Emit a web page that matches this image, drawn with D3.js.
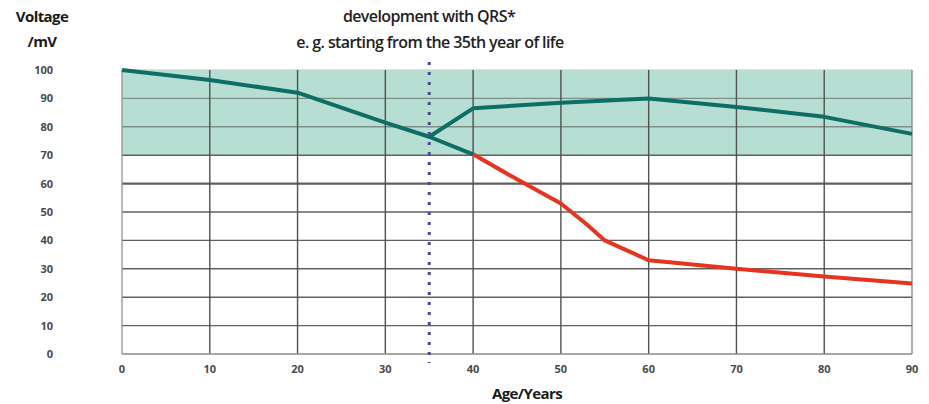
<!DOCTYPE html>
<html>
<head>
<meta charset="utf-8">
<script src="https://cdn.jsdelivr.net/npm/d3@7"></script>
<style>
  body { margin: 0; background: #fff; }
  text { font-family: "Open Sans", sans-serif; }
</style>
</head>
<body>
<div id="chart"></div>
<script>
// Data
var xTicks = [0, 10, 20, 30, 40, 50, 60, 70, 80, 90];
var yTicks = [0, 10, 20, 30, 40, 50, 60, 70, 80, 90, 100];
var normalAges = [0, 10, 20, 30, 35, 40];
var normalVolts = [100, 96.5, 92, 81.5, 76.5, 70.3];
var declineAges = [40, 45, 50, 53, 55, 60, 70, 80, 90];
var declineVolts = [70.3, 61.5, 53, 45.5, 40, 33, 30, 27.3, 24.8];
var qrsAges = [35, 40, 50, 60, 70, 80, 90];
var qrsVolts = [76.5, 86.5, 88.5, 90, 87, 83.5, 77.5];
var bandRange = [70, 100];
var markerAge = 35;

var width = 929, height = 404;
var svg = d3.select("#chart").append("svg").attr("width", width).attr("height", height);

// Scales
var x = d3.scaleLinear().domain([0, 90]).range([122, 912]);
var y = d3.scaleLinear().domain([0, 100]).range([354, 70]);

// Shaded normal band
svg.append("rect")
  .attr("x", x(0)).attr("y", y(bandRange[1]))
  .attr("width", x(90) - x(0)).attr("height", y(bandRange[0]) - y(bandRange[1]))
  .attr("fill", "#b7ded2");

// Horizontal grid
svg.append("g").selectAll("line")
  .data(yTicks.filter(function(d){ return d > 0; }))
  .join("line")
  .attr("x1", x(0)).attr("x2", x(90))
  .attr("y1", function(d){ return y(d); }).attr("y2", function(d){ return y(d); })
  .attr("stroke", function(d){ return d == 100 ? "#c4dcd4" : (d > 70 ? "#7d8f89" : "#606060"); })
  .attr("stroke-width", function(d){ return d == 60 ? 2.2 : 1.4; });

// Vertical grid
svg.append("g").selectAll("line")
  .data(xTicks)
  .join("line")
  .attr("x1", function(d){ return x(d); }).attr("x2", function(d){ return x(d); })
  .attr("y1", y(100)).attr("y2", y(0))
  .attr("stroke", function(d){ return d == 0 ? "#9a9a9a" : (d == 90 ? "#8a8a8a" : "#505050"); })
  .attr("stroke-width", 1.4);

// Bottom axis line
svg.append("line")
  .attr("x1", x(0)).attr("x2", x(90)).attr("y1", y(0)).attr("y2", y(0))
  .attr("stroke", "#8a8a8a").attr("stroke-width", 1.4);

// Tick labels
svg.append("g").selectAll("text")
  .data(yTicks)
  .join("text")
  .attr("x", 53).attr("y", function(d){ return y(d) + 4; })
  .attr("text-anchor", "end")
  .attr("font-size", 11).attr("font-weight", "bold").attr("fill", "#4a4a4a")
  .text(function(d){ return d; });

svg.append("g").selectAll("text")
  .data(xTicks)
  .join("text")
  .attr("x", function(d){ return x(d); }).attr("y", 373)
  .attr("text-anchor", "middle")
  .attr("font-size", 11).attr("font-weight", "bold").attr("fill", "#4a4a4a")
  .text(function(d){ return d; });

// Lines
var line = d3.line()
  .x(function(d){ return x(d[0]); })
  .y(function(d){ return y(d[1]); });

svg.append("path")
  .datum(d3.zip(declineAges, declineVolts))
  .attr("fill", "none").attr("stroke", "#e8331f").attr("stroke-width", 4)
  .attr("stroke-linejoin", "round").attr("d", line);

svg.append("path")
  .datum(d3.zip(normalAges, normalVolts))
  .attr("fill", "none").attr("stroke", "#0d6e63").attr("stroke-width", 4)
  .attr("stroke-linejoin", "round").attr("d", line);

svg.append("path")
  .datum(d3.zip(qrsAges, qrsVolts))
  .attr("fill", "none").attr("stroke", "#0d6e63").attr("stroke-width", 4)
  .attr("stroke-linejoin", "round").attr("d", line);

// Dotted marker at 35 years
svg.append("line")
  .attr("x1", x(markerAge)).attr("x2", x(markerAge))
  .attr("y1", 62).attr("y2", 363)
  .attr("stroke", "#4b4c8e").attr("stroke-width", 3)
  .attr("stroke-dasharray", "3,7");

// Titles
svg.append("text").attr("x", 42).attr("y", 22).attr("text-anchor", "middle")
  .attr("font-size", 15).attr("font-weight", "bold").attr("letter-spacing", -0.6).attr("fill", "#1a1a1a").text("Voltage");
svg.append("text").attr("x", 42).attr("y", 47).attr("text-anchor", "middle")
  .attr("font-size", 15).attr("font-weight", "bold").attr("letter-spacing", -0.6).attr("fill", "#1a1a1a").text("/mV");
svg.append("text").attr("x", 429).attr("y", 22).attr("text-anchor", "middle")
  .attr("font-size", 16).attr("font-weight", 600).attr("fill", "#1f1f1f").attr("letter-spacing", -0.6).text("development with QRS*");
svg.append("text").attr("x", 430).attr("y", 48).attr("text-anchor", "middle")
  .attr("font-size", 16).attr("font-weight", 600).attr("fill", "#1f1f1f").attr("letter-spacing", -0.6).text("e. g. starting from the 35th year of life");
svg.append("text").attr("x", 527).attr("y", 399).attr("text-anchor", "middle")
  .attr("font-size", 15).attr("font-weight", "bold").attr("fill", "#1a1a1a").attr("letter-spacing", -0.6).text("Age/Years");
</script>
</body>
</html>
